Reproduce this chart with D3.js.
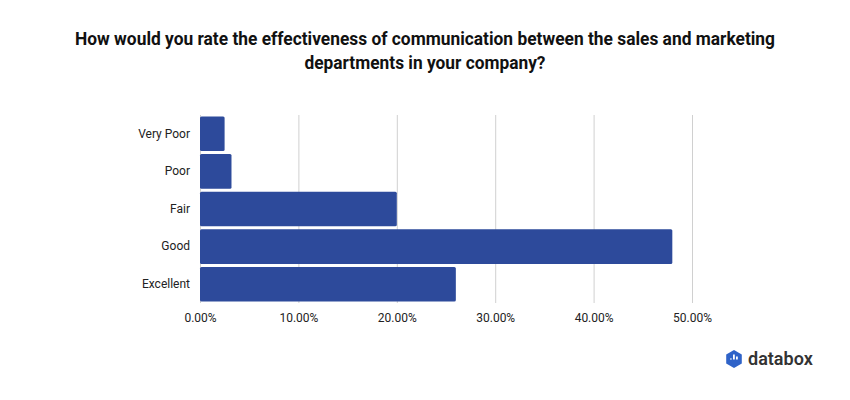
<!DOCTYPE html>
<html lang="en">
<head>
<meta charset="UTF-8"/>
<title>Sales and marketing communication</title>
<script src="https://d3js.org/d3.v7.min.js"></script>
<style>
	body { margin: 0; background: #fff; }
	text { font-family: Roboto, "Noto Sans", sans-serif; }
</style>
</head>
<body>
<script>
	var w = 850;
	var h = 400;

	// data
	var categories = ["Very Poor", "Poor", "Fair", "Good", "Excellent"];
	var values = [0.025, 0.032, 0.20, 0.48, 0.26];
	var tickValues = [0, 0.1, 0.2, 0.3, 0.4, 0.5];
	var titleLines = [
		"How would you rate the effectiveness of communication between the sales and marketing",
		"departments in your company?"
	];

	var plotLeft = 200, plotRight = 692, plotTop = 115, plotBottom = 303;

	var xScale = d3.scaleLinear()
		.domain([0, 0.5])
		.range([plotLeft, plotRight]);

	var yScale = d3.scaleBand()
		.domain(categories)
		.range([plotTop, plotBottom])
		.paddingInner(0.08)
		.paddingOuter(0.04);

	var svg = d3.select("body")
		.append("svg")
		.attr("width", w)
		.attr("height", h);

	// title (condensed look via textLength)
	svg.selectAll(".title")
		.data(titleLines)
		.enter()
		.append("text")
		.attr("class", "title")
		.attr("x", w / 2)
		.attr("y", function(d, i){ return 45 + i * 24; })
		.attr("text-anchor", "middle")
		.attr("font-size", 19)
		.attr("font-weight", 700)
		.attr("fill", "#111")
		.attr("textLength", function(d, i){ return i == 0 ? 700 : 241; })
		.attr("lengthAdjust", "spacingAndGlyphs")
		.text(function(d){ return d; });

	// grid lines
	svg.append("g")
		.selectAll("line")
		.data(tickValues)
		.enter()
		.append("line")
		.attr("x1", function(d){ return xScale(d) + 0.5; })
		.attr("x2", function(d){ return xScale(d) + 0.5; })
		.attr("y1", plotTop)
		.attr("y2", plotBottom)
		.attr("stroke", "#d0d0d0")
		.attr("stroke-width", 1);

	// bars
	svg.selectAll("rect.bar")
		.data(values)
		.enter()
		.append("rect")
		.attr("class", "bar")
		.attr("x", xScale(0))
		.attr("y", function(d, i){ return yScale(categories[i]); })
		.attr("width", function(d){ return xScale(d) - xScale(0); })
		.attr("height", yScale.bandwidth())
		.attr("rx", 1.5)
		.attr("fill", "#2d4a9b");

	// y axis labels
	var yAxis = d3.axisLeft(yScale).tickSize(0).tickPadding(10);
	var yg = svg.append("g")
		.attr("transform", "translate(" + plotLeft + ",0)")
		.call(yAxis);
	yg.select(".domain").remove();
	yg.selectAll("text")
		.attr("font-size", 12)
		.attr("font-family", "Roboto, sans-serif")
		.attr("fill", "#222");

	// x axis labels
	var xAxis = d3.axisBottom(xScale)
		.tickValues(tickValues)
		.tickSize(0)
		.tickPadding(10)
		.tickFormat(function(d){ return (d * 100).toFixed(2) + "%"; });
	var xg = svg.append("g")
		.attr("transform", "translate(0," + plotBottom + ")")
		.call(xAxis);
	xg.select(".domain").remove();
	xg.selectAll("text")
		.attr("font-size", 12)
		.attr("font-family", "Roboto, sans-serif")
		.attr("fill", "#222");

	// databox logo
	var logo = svg.append("g").attr("transform", "translate(734,359)");
	var hex = d3.range(6).map(function(i){
		var a = Math.PI / 3 * i - Math.PI / 2;
		return [9 * Math.cos(a), 9 * Math.sin(a)];
	});
	logo.append("path")
		.attr("d", "M" + hex.join("L") + "Z")
		.attr("fill", "#2f63c8");
	logo.selectAll("rect")
		.data([[-4, 0, 5], [-1, -4, 9], [2, -2, 7]])
		.enter()
		.append("rect")
		.attr("x", function(d){ return d[0]; })
		.attr("y", function(d){ return d[1] - 0.5; })
		.attr("width", 1.8)
		.attr("height", function(d){ return d[2] - 4; })
		.attr("fill", "#fff");
	svg.append("text")
		.attr("x", 748)
		.attr("y", 365)
		.attr("font-family", "'Open Sans', sans-serif")
		.attr("font-weight", 600)
		.attr("font-size", 18)
		.attr("fill", "#333")
		.text("databox");
</script>
</body>
</html>
